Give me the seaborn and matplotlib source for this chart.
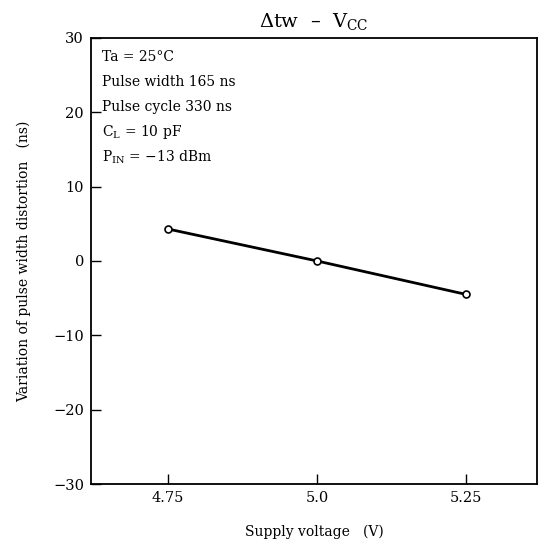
import matplotlib
matplotlib.use("Agg")
import matplotlib.pyplot as plt
import seaborn as sns
import pandas as pd

supply_voltage = [4.75, 5.0, 5.25]
distortion = [4.3, 0.0, -4.5]
x_ticks = [4.75, 5.0, 5.25]
x_tick_labels = ["4.75", "5.0", "5.25"]
y_ticks = [-30, -20, -10, 0, 10, 20, 30]
y_tick_labels = ["\u221230", "\u221220", "\u221210", "0", "10", "20", "30"]
conditions = ["Ta = 25\u00b0C", "Pulse width 165 ns", "Pulse cycle 330 ns",
              "C$_\\mathrm{L}$ = 10 pF", "P$_\\mathrm{IN}$ = \u221213 dBm"]

sns.set_theme(style="white")
plt.rcParams['font.family'] = ['DejaVu Serif']
plt.rcParams['mathtext.fontset'] = 'dejavuserif'

df = pd.DataFrame({"V": supply_voltage, "D": distortion})

fig = plt.figure(figsize=(5.42, 5.50), dpi=100)
ax = fig.add_axes([0.168, 0.12, 0.823, 0.811])
sns.lineplot(data=df, x="V", y="D", ax=ax, color="black", linewidth=2.0,
             marker="o", markersize=5, markerfacecolor="white",
             markeredgecolor="black", markeredgewidth=1.2)

ax.set_xlim(4.621, 5.369)
ax.set_ylim(-30, 30)
ax.set_xticks(x_ticks)
ax.set_xticklabels(x_tick_labels)
ax.set_yticks(y_ticks)
ax.set_yticklabels(y_tick_labels)
ax.xaxis.set_ticks_position("bottom")
ax.yaxis.set_ticks_position("left")
ax.tick_params(axis="both", direction="in", length=7, width=1, colors="black",
               labelsize=10.5, pad=5)
for s in ax.spines.values():
    s.set_color("black")
    s.set_linewidth(1.3)

ax.set_xlabel("Supply voltage   (V)", fontsize=10, labelpad=14, color="black")
ax.set_ylabel("Variation of pulse width distortion   (ns)", fontsize=10, color="black")
ax.yaxis.set_label_coords(-0.135, 0.5)
ax.set_title("$\\mathit{\\Delta}$tw  \u2013  V$_\\mathrm{CC}$", fontsize=14, pad=8, color="black")

for i, t in enumerate(conditions):
    ax.text(0.025, 0.957 - i * 0.056, t, transform=ax.transAxes, fontsize=10,
            va="center", ha="left", color="black")

fig.savefig("out.png", dpi=100, facecolor="white")
